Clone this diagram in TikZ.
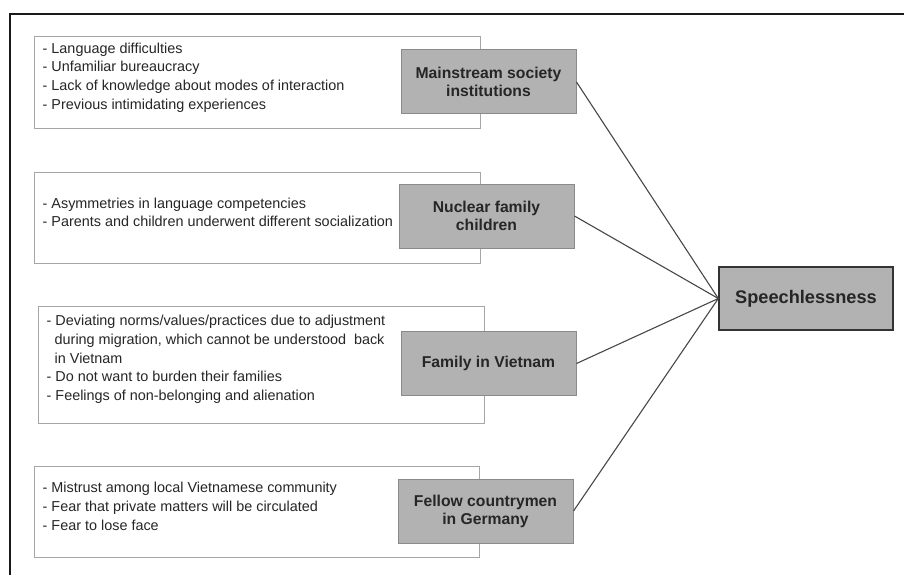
\documentclass[tikz,border=0pt]{standalone}
\usepackage{fontspec}
\setmainfont{Liberation Sans}
\begin{document}
\begin{tikzpicture}[x=1pt,y=-1pt,
    listbox/.style={draw=gray!70, line width=1pt, fill=white, minimum width=446pt, minimum height=91pt, inner sep=0pt},
    listtext/.style={anchor=west, align=left, inner sep=0pt, xshift=9pt, yshift=5pt, text=black!85, font=\fontsize{14.4}{18.7}\selectfont},
    factor/.style={draw=black!46, line width=1pt, fill=black!30, minimum width=175pt, minimum height=64pt, inner sep=2pt, align=center, text=black!85, font=\fontsize{15.7}{18}\selectfont\bfseries},
    outcome/.style={draw=black!80, line width=1.4pt, fill=black!30, minimum width=174pt, minimum height=63pt, text=black!85, font=\fontsize{18.2}{21}\selectfont\bfseries},
    link/.style={draw=black!72, line width=1.1pt}]
    \useasboundingbox (0,0) rectangle (904,575);
    \draw[line width=2pt, black!90] (10,575) -- (10,14) -- (904,14);
    % lists of reasons
    \node[listbox] (w1) at (257,82.5) {};
    \node[listbox] (w2) at (257,217.5) {};
    \node[listbox, minimum height=117pt] (w3) at (261,364.5) {};
    \node[listbox, minimum width=445pt] (w4) at (256.5,511.5) {};
    \node[listtext] (t1) at (w1.west) {- Language difficulties\\- Unfamiliar bureaucracy\\- Lack of knowledge about modes of interaction\\- Previous intimidating experiences};
    \node[listtext] (t2) at (w2.west) {- Asymmetries in language competencies\\- Parents and children underwent different socialization};
    \node[listtext] (t3) at (w3.west) {- Deviating norms/values/practices due to adjustment\\\hspace*{8pt}during migration, which cannot be understood\ \ back\\\hspace*{8pt}in Vietnam\\- Do not want to burden their families\\- Feelings of non-belonging and alienation};
    \node[listtext] (t4) at (w4.west) {- Mistrust among local Vietnamese community\\- Fear that private matters will be circulated\\- Fear to lose face};
    % groups
    \node[factor] (g1) at (488.5,82) {Mainstream society\\institutions};
    \node[factor] (g2) at (486.5,216) {Nuclear family\\children};
    \node[factor] (g3) at (488.5,363.5) {Family in Vietnam};
    \node[factor] (g4) at (485.5,511) {Fellow countrymen\\in Germany};
    \node[outcome] (s) at (806,298.5) {Speechlessness};
    \draw[link] (g1.east) -- (s.west);
    \draw[link] (g2.east) -- (s.west);
    \draw[link] (g3.east) -- (s.west);
    \draw[link] (g4.east) -- (s.west);
\end{tikzpicture}
\end{document}
